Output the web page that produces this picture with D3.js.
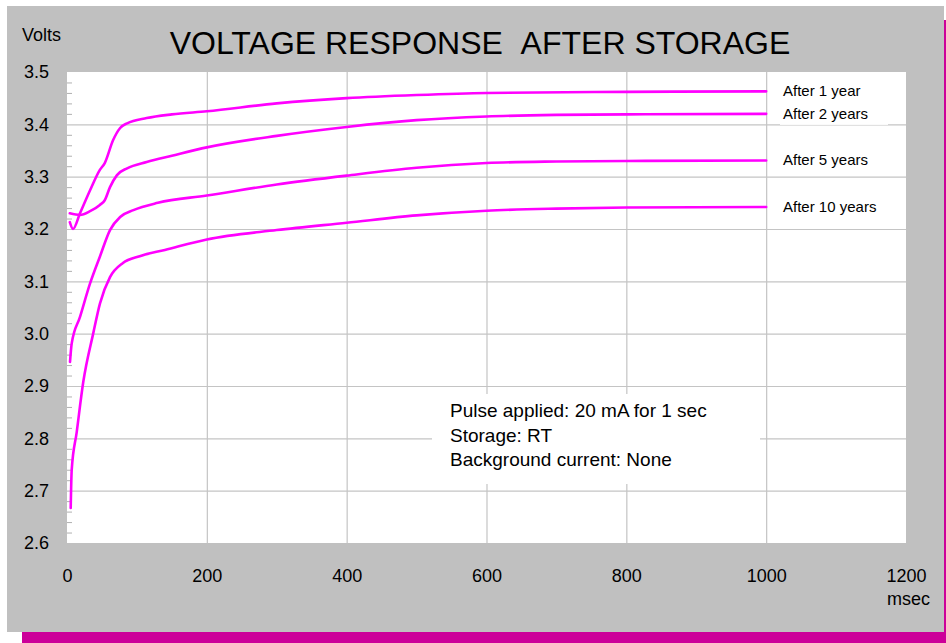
<!DOCTYPE html>
<html>
<head>
<meta charset="utf-8">
<script src="https://cdn.jsdelivr.net/npm/d3@7"></script>
<style>
  body { margin: 0; background: #fff; }
  svg text { font-family: "Liberation Sans", Arial, sans-serif; fill: #000; }
</style>
</head>
<body>
<div id="chart"></div>
<script>
// data (time in msec, voltage in V)
const yr1Ms = [4, 8.6, 18.6, 33, 47, 54, 66, 76, 86, 114, 150, 200, 300, 400, 500, 600, 800, 1000];
const yr1V  = [3.213, 3.200, 3.230, 3.274, 3.313, 3.326, 3.370, 3.393, 3.402, 3.412, 3.419, 3.425, 3.440, 3.450, 3.456, 3.460, 3.462, 3.463];

const yr2Ms = [4, 18.6, 33, 47, 54, 61.5, 71.5, 86, 114, 150, 200, 300, 400, 500, 600, 700, 800, 1000];
const yr2V  = [3.230, 3.227, 3.234, 3.246, 3.255, 3.280, 3.303, 3.316, 3.328, 3.340, 3.356, 3.378, 3.395, 3.408, 3.415, 3.418, 3.419, 3.420];

const yr5Ms = [4.3, 6.7, 18.6, 33, 47, 61.5, 76, 95, 130, 200, 300, 400, 500, 600, 700, 800, 1000];
const yr5V  = [2.946, 2.981, 3.032, 3.096, 3.147, 3.198, 3.223, 3.236, 3.250, 3.264, 3.285, 3.302, 3.317, 3.326, 3.329, 3.330, 3.331];

const yr10Ms = [5.3, 6.7, 13.9, 23.3, 37.6, 47.2, 61.5, 80, 104, 140, 200, 300, 400, 500, 600, 700, 800, 1000];
const yr10V  = [2.667, 2.739, 2.812, 2.908, 3.001, 3.058, 3.108, 3.135, 3.148, 3.160, 3.180, 3.198, 3.212, 3.226, 3.235, 3.239, 3.241, 3.242];

const seriesNames = ["After 1 year", "After 2 years", "After 5 years", "After 10 years"];
const xTicks = [0, 200, 400, 600, 800, 1000, 1200];
const yTicks = [2.6, 2.7, 2.8, 2.9, 3.0, 3.1, 3.2, 3.3, 3.4, 3.5];
const noteLines = ["Pulse applied: 20 mA for 1 sec", "Storage: RT", "Background current: None"];

const series = [
  {name: seriesNames[0], ms: yr1Ms, v: yr1V},
  {name: seriesNames[1], ms: yr2Ms, v: yr2V},
  {name: seriesNames[2], ms: yr5Ms, v: yr5V},
  {name: seriesNames[3], ms: yr10Ms, v: yr10V}
].map(s => ({name: s.name, pts: s.ms.map((m, i) => [m, s.v[i]])}));

const W = 946, H = 643;
const plot = {left: 67, right: 906, top: 72, bottom: 543};

const svg = d3.select('#chart').append('svg')
  .attr('width', W).attr('height', H);

// background panel + magenta trim
svg.append('rect').attr('x', 7).attr('y', 6).attr('width', 937).attr('height', 626).attr('fill', '#c0c0c0');
svg.append('rect').attr('x', 944).attr('y', 20).attr('width', 2).attr('height', 623).attr('fill', '#cc0099');
svg.append('rect').attr('x', 22).attr('y', 632).attr('width', 924).attr('height', 11).attr('fill', '#cc0099');

const x = d3.scaleLinear().domain([0, 1200]).range([plot.left, plot.right]);
const y = d3.scaleLinear().domain([2.6, 3.5]).range([plot.bottom, plot.top]);

svg.append('rect')
  .attr('x', plot.left).attr('y', plot.top)
  .attr('width', plot.right - plot.left).attr('height', plot.bottom - plot.top)
  .attr('fill', '#fff');

// grid
const gridX = svg.append('g').attr('transform', `translate(0,${plot.bottom})`)
  .call(d3.axisBottom(x).tickValues(xTicks.slice(1, -1)).tickSize(-(plot.bottom - plot.top)).tickFormat(''));
const gridY = svg.append('g').attr('transform', `translate(${plot.left},0)`)
  .call(d3.axisLeft(y).tickValues(yTicks.slice(1, -1)).tickSize(-(plot.right - plot.left)).tickFormat(''));
[gridX, gridY].forEach(g => {
  g.select('.domain').remove();
  g.selectAll('line').attr('stroke', '#c4c4c4').attr('stroke-width', 1.2);
});

// minor ticks on the left edge
const minor = d3.range(26, 35).flatMap(k => [1, 2, 3, 4].map(j => (k * 10 + j * 2) / 100));
const minorG = svg.append('g').attr('transform', `translate(${plot.left},0)`)
  .call(d3.axisRight(y).tickValues(minor).tickSize(5).tickFormat(''));
minorG.select('.domain').remove();
minorG.selectAll('line').attr('stroke', '#b0b0b0');

// white box behind the note
svg.append('rect').attr('x', 432).attr('y', 394).attr('width', 328).attr('height', 90).attr('fill', '#fff');

// tick labels
const yAxisG = svg.append('g').attr('transform', `translate(${plot.left},0)`)
  .call(d3.axisLeft(y).tickValues(yTicks).tickSize(0).tickPadding(18).tickFormat(d3.format('.1f')));
const xAxisG = svg.append('g').attr('transform', `translate(0,${plot.bottom})`)
  .call(d3.axisBottom(x).tickValues(xTicks).tickSize(0).tickPadding(26).tickFormat(d3.format('d')));
[yAxisG, xAxisG].forEach(g => {
  g.select('.domain').remove();
  g.selectAll('text').style('font-size', '18px').attr('fill', '#000')
    .style('font-family', '"Liberation Sans", Arial, sans-serif');
});

// curves
const line = d3.line().x(d => x(d[0])).y(d => y(d[1])).curve(d3.curveMonotoneX);
svg.append('g').selectAll('path').data(series).enter().append('path')
  .attr('d', d => line(d.pts))
  .attr('fill', 'none').attr('stroke', '#ff00ff').attr('stroke-width', 2.6)
  .attr('stroke-linecap', 'round').attr('stroke-linejoin', 'round');

// series labels
const lab = svg.append('g').selectAll('g').data(series).enter().append('g')
  .attr('transform', d => `translate(783,${y(d.pts[d.pts.length - 1][1]) + 5})`);
lab.append('rect').attr('x', -3).attr('y', -14).attr('width', 108).attr('height', 20).attr('fill', '#fff');
lab.append('text').text(d => d.name).style('font-size', '15px');

// titles
svg.append('text').attr('x', 480).attr('y', 54).attr('text-anchor', 'middle')
  .style('font-size', '32px').text('VOLTAGE RESPONSE\u00a0\u00a0AFTER STORAGE');
svg.append('text').attr('x', 22).attr('y', 41).style('font-size', '18px').text('Volts');
svg.append('text').attr('x', 930).attr('y', 605).attr('text-anchor', 'end').style('font-size', '18px').text('msec');

// note
svg.append('g').selectAll('text').data(noteLines).enter().append('text')
  .attr('x', 450).attr('y', (d, i) => 417 + i * 24.5)
  .style('font-size', '19px').text(d => d);
</script>
</body>
</html>
